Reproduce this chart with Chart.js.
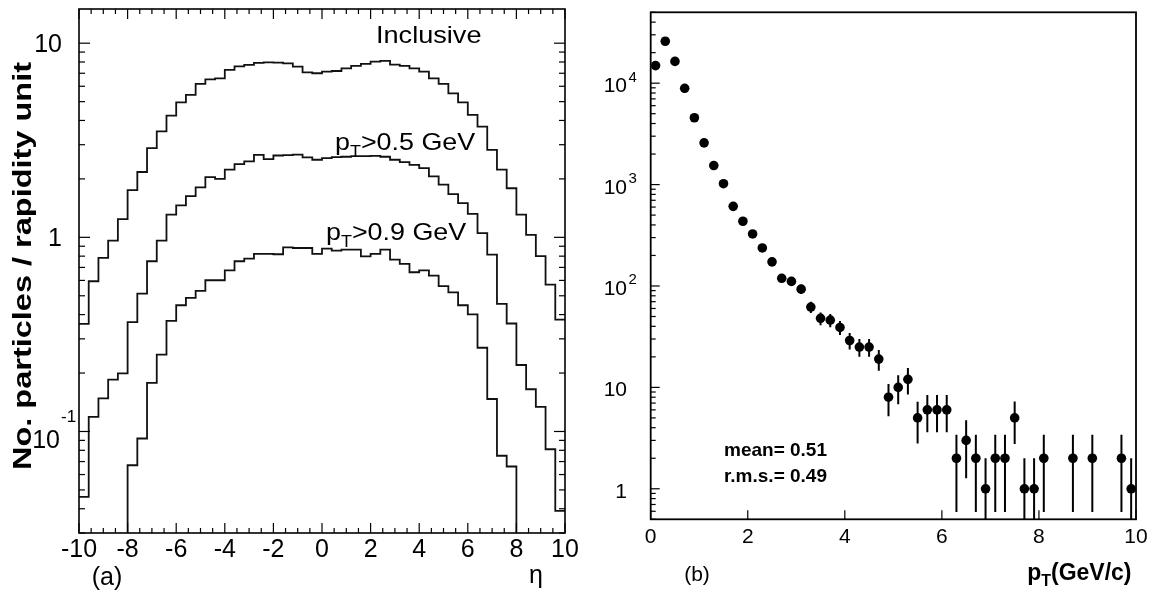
<!DOCTYPE html>
<html>
<head>
<meta charset="utf-8">
<script src="https://cdn.jsdelivr.net/npm/chart.js@4.4.1/dist/chart.umd.min.js"></script>
<style>
  html, body { margin: 0; padding: 0; background: #fff; }
  #wrap { position: relative; width: 1156px; height: 594px; overflow: hidden; }
  #wrap canvas { position: absolute; left: 0; top: 0; }
</style>
</head>
<body>
<div id="wrap">
  <canvas id="etaChart" width="1156" height="594"></canvas>
  <canvas id="ptChart" width="1156" height="594"></canvas>
</div>
<script>
// ---------- panel (a): dN/deta, 0.4-wide bins from -10 to 10 ----------
const ETA_EDGES = Array.from({ length: 51 }, (_, i) => -10 + 0.4 * i);

const INCLUSIVE = [
  0.358, 0.594, 0.783, 0.962, 1.24, 1.75, 2.17, 2.88, 3.51, 4.24,
  4.96, 5.42, 6.17, 6.51, 6.59, 7.28, 7.60, 7.73, 7.91, 7.97,
  7.94, 7.87, 7.57, 7.08, 7.00, 7.13, 7.19, 7.42, 7.64, 7.82,
  8.03, 8.10, 7.75, 7.64, 7.42, 7.13, 6.59, 6.17, 5.52, 4.96,
  4.27, 3.72, 2.82, 2.23, 1.79, 1.31, 1.03, 0.80, 0.571, 0.377
];
const PT_GT_05 = [
  0.046, 0.119, 0.148, 0.185, 0.199, 0.366, 0.513, 0.753, 0.962, 1.31,
  1.46, 1.63, 1.81, 2.04, 2.00, 2.23, 2.38, 2.46, 2.66, 2.53,
  2.64, 2.65, 2.67, 2.58, 2.51, 2.56, 2.59, 2.60, 2.62, 2.62,
  2.63, 2.60, 2.51, 2.44, 2.36, 2.27, 2.06, 1.87, 1.67, 1.50,
  1.32, 1.05, 0.815, 0.454, 0.360, 0.220, 0.165, 0.134, 0.081, 0.039
];
const PT_GT_09 = [
  0, 0, 0, 0, 0, 0.067, 0.092, 0.178, 0.249, 0.371,
  0.447, 0.488, 0.530, 0.601, 0.601, 0.676, 0.753, 0.777, 0.821, 0.821,
  0.818, 0.888, 0.881, 0.881, 0.821, 0.875, 0.854, 0.865, 0.865, 0.798,
  0.821, 0.865, 0.768, 0.730, 0.661, 0.676, 0.635, 0.560, 0.521, 0.447,
  0.401, 0.270, 0.147, 0.075, 0.066, 0, 0, 0, 0, 0
];
const ETA_TICKS = [-10, -8, -6, -4, -2, 0, 2, 4, 6, 8, 10];
const ETA_Y_TICKS = [0.1, 1, 10];
const ETA_Y_LABELS = [['10', '-1'], ['1', ''], ['10', '']];

// ---------- panel (b): pT spectrum, 0.2 GeV bins ----------
const PT_CENTERS = [
  0.1, 0.3, 0.5, 0.7, 0.9, 1.1, 1.3, 1.5, 1.7, 1.9,
  2.1, 2.3, 2.5, 2.7, 2.9, 3.1, 3.3, 3.5, 3.7, 3.9,
  4.1, 4.3, 4.5, 4.7, 4.9, 5.1, 5.3, 5.5, 5.7, 5.9,
  6.1, 6.3, 6.5, 6.7, 6.9, 7.1, 7.3, 7.5, 7.7, 7.9,
  8.1, 8.7, 9.1, 9.7, 9.9
];
const PT_COUNTS = [
  14900, 25900, 16400, 8900, 4560, 2580, 1540, 1020, 610, 435,
  326, 237, 173, 119, 111, 93, 62, 48, 46, 39,
  29, 25, 25, 19, 8, 10, 12, 5, 6, 6,
  6, 2, 3, 2, 1, 2, 2, 5, 1, 1,
  2, 2, 2, 2, 1
];
const PT_ERRORS = [
  122, 161, 128, 94, 68, 51, 39, 32, 25, 21,
  18, 15, 13, 11, 10.5, 9.6, 7.9, 6.9, 6.8, 6.2,
  5.4, 5, 5, 4.4, 2.8, 3.2, 3.5, 2.2, 2.4, 2.4,
  2.4, 1.41, 1.73, 1.41, 1, 1.41, 1.41, 2.24, 1, 1,
  1.41, 1.41, 1.41, 1.41, 1
];
const PT_TICKS = [0, 2, 4, 6, 8, 10];
const PT_Y_TICKS = [1, 10, 100, 1000, 10000];
const PT_Y_LABELS = [['1', ''], ['10', ''], ['10', '2'], ['10', '3'], ['10', '4']];

const INK = '#000';
const SANS = '"Liberation Sans", Arial, sans-serif';
const FLOOR = 1e-3; // empty bins are drawn below the axis and clipped

// draws runs of text [{s, size, bold, dy}] left-to-right, stretched by sx
function richText(ctx, runs, x, y, align, sx) {
  sx = sx || 1;
  ctx.save();
  let w = 0;
  runs.forEach(r => {
    ctx.font = (r.bold ? 'bold ' : '') + r.size + 'px ' + SANS;
    r.w = ctx.measureText(r.s).width;
    w += r.w;
  });
  w *= sx;
  const x0 = align === 'center' ? x - w / 2 : align === 'right' ? x - w : x;
  ctx.translate(x0, y);
  ctx.scale(sx, 1);
  ctx.fillStyle = INK;
  ctx.textAlign = 'left';
  ctx.textBaseline = 'alphabetic';
  let cx = 0;
  runs.forEach(r => {
    ctx.font = (r.bold ? 'bold ' : '') + r.size + 'px ' + SANS;
    ctx.fillText(r.s, cx, r.dy || 0);
    cx += r.w;
  });
  ctx.restore();
  return w;
}

function seg(ctx, x1, y1, x2, y2) {
  ctx.beginPath();
  ctx.moveTo(x1, y1);
  ctx.lineTo(x2, y2);
  ctx.stroke();
}

function logMinorValues(min, max) {
  const out = [];
  for (let d = -3; d <= 5; d++) {
    for (let k = 1; k <= 9; k++) {
      const v = k * Math.pow(10, d);
      if (v >= min * 0.999 && v <= max * 1.001) out.push({ v, major: k === 1 });
    }
  }
  return out;
}

// one point per bin edge; the last edge repeats the last bin so it closes
function histData(vals) {
  return ETA_EDGES.map((x, i) => {
    const v = vals[Math.min(i, vals.length - 1)];
    return { x, y: v > 0 ? v : FLOOR };
  });
}

function histSet(vals) {
  return {
    data: histData(vals),
    stepped: 'before',
    borderColor: '#111',
    borderWidth: 1.8,
    pointRadius: 0,
    fill: false,
    clip: 0
  };
}

// ---------- panel (a) decorations ----------
const etaFrame = {
  id: 'etaFrame',
  afterDraw(chart) {
    const { ctx, chartArea: ca, scales: { x, y } } = chart;
    ctx.save();
    ctx.strokeStyle = INK;
    ctx.lineWidth = 1.6;
    ctx.strokeRect(ca.left, ca.top, ca.right - ca.left, ca.bottom - ca.top);
    ctx.lineWidth = 1.2;
    for (let v = -10; v <= 10; v += 0.5) {
      const px = x.getPixelForValue(v);
      const len = Math.abs(v % 2) < 1e-9 ? 10 : 5;
      seg(ctx, px, ca.bottom, px, ca.bottom - len);
      seg(ctx, px, ca.top, px, ca.top + len);
    }
    logMinorValues(y.min, y.max).forEach(t => {
      const py = y.getPixelForValue(t.v);
      const len = t.major ? 11 : 6;
      seg(ctx, ca.left, py, ca.left + len, py);
      seg(ctx, ca.right, py, ca.right - len, py);
    });
    ctx.restore();

    ETA_TICKS.forEach(v => {
      richText(ctx, [{ s: String(v), size: 25 }], x.getPixelForValue(v), ca.bottom + 24, 'center');
    });
    ETA_Y_TICKS.forEach((v, i) => {
      const py = y.getPixelForValue(v);
      const [base, exp] = ETA_Y_LABELS[i];
      if (exp) {
        richText(ctx, [{ s: base, size: 25 }], 60, py + 17, 'right');
        richText(ctx, [{ s: exp, size: 17 }], 61, py - 9, 'left');
      } else {
        richText(ctx, [{ s: base, size: 25 }], 62, py + 9, 'right');
      }
    });

    richText(ctx, [{ s: 'Inclusive', size: 24 }], 376, 42.5, 'left', 1.13);
    richText(ctx, [{ s: 'p', size: 24 }, { s: 'T', size: 16, dy: 7 }, { s: '>0.5 GeV', size: 24 }], 335, 149.5, 'left', 1.12);
    richText(ctx, [{ s: 'p', size: 24 }, { s: 'T', size: 16, dy: 7 }, { s: '>0.9 GeV', size: 24 }], 326, 239.5, 'left', 1.12);
    richText(ctx, [{ s: '(a)', size: 25 }], 107, 585, 'center');
    richText(ctx, [{ s: '\u03b7', size: 25 }], 536, 583, 'center');

    // y axis title, rotated and stretched to the plot height
    ctx.save();
    ctx.font = 'bold 25px ' + SANS;
    const w = ctx.measureText('No. particles / rapidity unit').width;
    ctx.translate(31, 266);
    ctx.rotate(-Math.PI / 2);
    richText(ctx, [{ s: 'No. particles / rapidity unit', size: 25, bold: true }], 0, 0, 'center', 408 / w);
    ctx.restore();
  }
};

new Chart(document.getElementById('etaChart'), {
  type: 'line',
  data: {
    datasets: [histSet(INCLUSIVE), histSet(PT_GT_05), histSet(PT_GT_09)]
  },
  options: {
    responsive: false,
    animation: false,
    events: [],
    layout: { padding: { left: 79, top: 9, right: 591, bottom: 61 } },
    plugins: { legend: { display: false }, tooltip: { enabled: false } },
    scales: {
      x: { type: 'linear', min: -10, max: 10, display: false },
      y: { type: 'logarithmic', min: 0.03, max: 15, display: false }
    }
  },
  plugins: [etaFrame]
});

// ---------- panel (b) decorations ----------
const errorBars = {
  id: 'errorBars',
  beforeDatasetsDraw(chart) {
    const { ctx, chartArea: ca, scales: { x, y } } = chart;
    ctx.save();
    ctx.beginPath();
    ctx.rect(ca.left, ca.top, ca.right - ca.left, ca.bottom - ca.top);
    ctx.clip();
    ctx.strokeStyle = INK;
    ctx.lineWidth = 2;
    PT_COUNTS.forEach((n, i) => {
      const px = x.getPixelForValue(PT_CENTERS[i]);
      const lo = n - PT_ERRORS[i];
      const yTop = y.getPixelForValue(n + PT_ERRORS[i]);
      const yBot = lo > 0 ? y.getPixelForValue(lo) : ca.bottom;
      seg(ctx, px, yTop, px, yBot);
    });
    ctx.restore();
  }
};

const ptFrame = {
  id: 'ptFrame',
  afterDraw(chart) {
    const { ctx, chartArea: ca, scales: { x, y } } = chart;
    ctx.save();
    ctx.strokeStyle = INK;
    ctx.lineWidth = 1.8;
    ctx.strokeRect(ca.left, ca.top, ca.right - ca.left, ca.bottom - ca.top);
    ctx.lineWidth = 1.2;
    PT_TICKS.forEach(v => {
      const px = x.getPixelForValue(v);
      seg(ctx, px, ca.bottom, px, ca.bottom - 9);
    });
    logMinorValues(y.min, y.max).forEach(t => {
      const py = y.getPixelForValue(t.v);
      seg(ctx, ca.left, py, ca.left + (t.major ? 9 : 5), py);
    });
    ctx.restore();

    PT_TICKS.forEach(v => {
      richText(ctx, [{ s: String(v), size: 21 }], x.getPixelForValue(v), ca.bottom + 24, 'center');
    });
    PT_Y_TICKS.forEach((v, i) => {
      const py = y.getPixelForValue(v);
      const [base, exp] = PT_Y_LABELS[i];
      richText(ctx, [{ s: base, size: 21 }], 627, py + 9, 'right');
      if (exp) richText(ctx, [{ s: exp, size: 15 }], 628.5, py - 1.5, 'left');
    });

    richText(ctx, [{ s: 'mean= 0.51', size: 19, bold: true }], 724, 456, 'left');
    richText(ctx, [{ s: 'r.m.s.= 0.49', size: 19, bold: true }], 724, 481.5, 'left');
    richText(ctx, [{ s: '(b)', size: 21 }], 697, 581, 'center');
    richText(ctx, [{ s: 'p', size: 23, bold: true }, { s: 'T', size: 16, bold: true, dy: 6 },
      { s: '(GeV/c)', size: 23, bold: true }], 1131.5, 580, 'right');
  }
};

new Chart(document.getElementById('ptChart'), {
  type: 'scatter',
  data: {
    datasets: [{
      data: PT_CENTERS.map((x, i) => ({ x, y: PT_COUNTS[i] })),
      pointRadius: 4.8,
      pointBackgroundColor: INK,
      pointBorderWidth: 0,
      showLine: false
    }]
  },
  options: {
    responsive: false,
    animation: false,
    events: [],
    layout: { padding: { left: 650.7, top: 12.3, right: 20, bottom: 74.7 } },
    plugins: { legend: { display: false }, tooltip: { enabled: false } },
    scales: {
      x: { type: 'linear', min: 0, max: 10, display: false },
      y: { type: 'logarithmic', min: 0.5, max: 50000, display: false }
    }
  },
  plugins: [errorBars, ptFrame]
});
</script>
</body>
</html>
